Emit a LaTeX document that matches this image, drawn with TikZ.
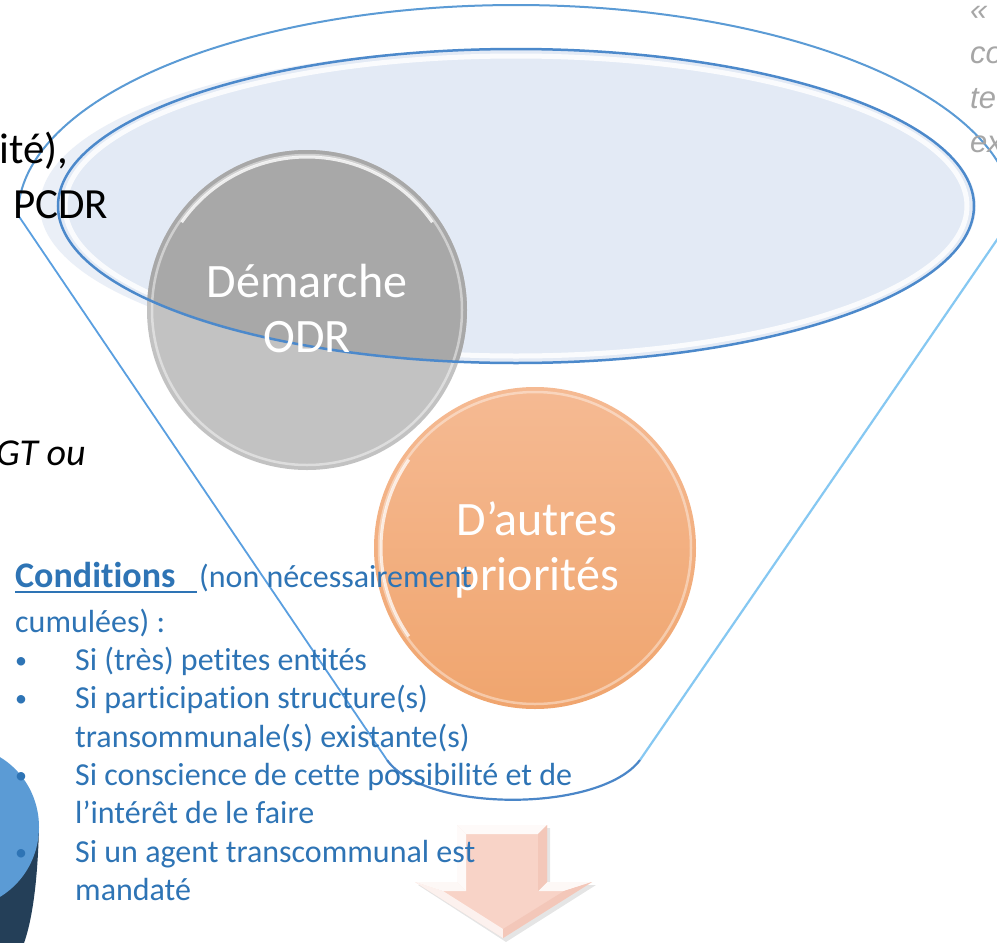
\documentclass[tikz,border=0pt]{standalone}
\usepackage{fontspec}
\setmainfont{Carlito}[Ligatures={NoCommon}]
\newfontfamily\greyfont{Liberation Sans}
\definecolor{txtblue}{HTML}{2E74B5}
\definecolor{rimblue}{HTML}{5B9BD5}
\definecolor{sideblue}{HTML}{86C8F2}
\definecolor{leftblue}{HTML}{5A9FE0}
\definecolor{botblue}{HTML}{4A86C8}
\definecolor{ellfill}{HTML}{E3EAF5}
\definecolor{hallo}{HTML}{EAEFF7}
\definecolor{ellline}{HTML}{4C89CB}
\definecolor{greytop}{HTML}{A8A8A8}
\definecolor{greybot}{HTML}{C2C2C2}
\definecolor{orangetop}{HTML}{F5BA93}
\definecolor{orangebot}{HTML}{F0A56E}
\definecolor{arrowpink}{HTML}{F8D3C7}
\definecolor{arrowdark}{HTML}{F3C7B9}
\definecolor{cylblue}{HTML}{5B9BD5}
\definecolor{cyldark}{HTML}{243F58}
\definecolor{greytext}{HTML}{A6A6A6}
\tikzset{
  bluetxt/.style={anchor=base west, inner sep=0, text=txtblue, font=\fontsize{32}{38}\selectfont},
  bulletmark/.style={anchor=base, inner sep=0, text=txtblue, font=\fontsize{24}{30}\selectfont},
  blacktxt/.style={anchor=base west, inner sep=0, text=black, font=\fontsize{43}{50}\selectfont},
  greytxt/.style={anchor=base west, inner sep=0, text=greytext, font=\greyfont\itshape\fontsize{31}{36}\selectfont},
  circtxt/.style={anchor=base, inner sep=0, text=white, font=\fontsize{48}{55}\selectfont},
  bigcircle/.style={circle, inner sep=0, minimum size=320},
}
\begin{document}
\begin{tikzpicture}[x=1pt,y=-1pt]
\useasboundingbox (0,0) rectangle (997,943);
\fill[white] (0,0) rectangle (997,943);

% bottom-left cylinder (partial)
\fill[cyldark] (-40,827) -- (39,827) .. controls (38,870) and (34,915) .. (24,943) -- (-40,943) -- cycle;
\fill[cylblue] (-40,827) ellipse [x radius=79, y radius=81];

% funnel outline
\draw[rimblue, line width=2] plot[domain=180:360, samples=150] ({516+498*cos(\x)}, {215+210*sin(\x)});
\coordinate (fl) at (18,215);
\coordinate (fr) at (1014,215);
\coordinate (bl) at (387,760);
\coordinate (br) at (640,760);
\draw[leftblue, line width=1.8] (fl) -- (bl);
\draw[sideblue, line width=2.2] (fr) -- (br);
\draw[botblue, line width=2.2] (bl) .. controls (425,813) and (600,813) .. (br);

% inner ellipse (funnel top)
\fill[hallo] (508,206) ellipse [x radius=468, y radius=157];
\fill[ellfill] (516,206) ellipse [x radius=458, y radius=157];
\draw[white, line width=5, opacity=.85] (516,206) ellipse [x radius=451, y radius=150];

% grey circle
\node[bigcircle, fill=greybot] (odr) at (307,310) {};
\begin{scope}
  \clip (516,206) ellipse [x radius=458, y radius=157];
  \fill[greytop] (odr.center) circle [radius=160];
\end{scope}
\draw[white, opacity=.45, line width=2.5] (odr.center) circle [radius=155];
\draw[white, opacity=.8, line width=3] plot[domain=215:325, samples=60] ({307+153*cos(\x)}, {310+153*sin(\x)});

\draw[ellline, line width=2.5] (516,206) ellipse [x radius=458, y radius=157];

\node[circtxt] (odra) at (307,297) {Démarche};
\node[circtxt] (odrb) at (307,352) {ODR};

% orange circle
\node[bigcircle, minimum size=322, top color=orangetop, bottom color=orangebot] (aut) at (535,548) {};
\draw[white, opacity=.4, line width=2.5] (aut.center) circle [radius=156];
\draw[white, opacity=.75, line width=3] plot[domain=145:215, samples=40] ({535+154*cos(\x)}, {548+154*sin(\x)});
\node[circtxt] (auta) at (537,535) {D’autres};
\node[circtxt] (autb) at (537,590) {priorités};

% pink arrow
\fill[black, opacity=.1] (460,828) -- (550,828) -- (550,885) -- (596,885) -- (506,942) -- (418,885) -- (460,885) -- cycle;
\fill[arrowpink] (457,825) -- (547,825) -- (547,882) -- (592,882) -- (503,938) -- (415,882) -- (457,882) -- cycle;
\fill[white, opacity=.9] (457,825) -- (547,825) -- (538,834) -- (466,834) -- cycle;
\fill[white, opacity=.9] (457,825) -- (466,834) -- (466,891) -- (457,882) -- cycle;
\fill[white, opacity=.85] (457,882) -- (466,891) -- (443,891) -- (415,882) -- cycle;
\fill[white, opacity=.7] (415,882) -- (443,891) -- (503,929) -- (503,938) -- cycle;
\fill[white, opacity=.85] (547,882) -- (592,882) -- (564,891) -- (538,891) -- cycle;
\fill[arrowdark] (547,825) -- (547,882) -- (538,891) -- (538,834) -- cycle;
\fill[arrowdark] (592,882) -- (503,938) -- (503,929) -- (564,891) -- cycle;

% blue text
\node[anchor=base west, inner sep=0, text=txtblue, font=\bfseries\fontsize{36}{42}\selectfont] (cond) at (15,587) {Conditions};
\draw[txtblue, line width=2.5] (15,592) -- (197,592);
\node[bluetxt] (condb) at (199,587) {(non nécessairement};
\node[bluetxt] (cum) at (15,632) {cumulées) :};
\node[bulletmark] (b1) at (21,668) {•};
\node[bluetxt] (l1) at (75,670) {Si (très) petites entités};
\node[bulletmark] (b2) at (21,706) {•};
\node[bluetxt] (l2) at (75,708) {Si participation structure(s)};
\node[bluetxt] (l3) at (75,747) {transommunale(s) existante(s)};
\node[bulletmark] (b3) at (21,783) {•};
\node[bluetxt] (l4) at (75,785) {Si conscience de cette possibilité et de};
\node[bluetxt] (l5) at (75,823) {l’intérêt de le faire};
\node[bulletmark] (b4) at (21,860) {•};
\node[bluetxt] (l6) at (75,862) {Si un agent transcommunal est};
\node[bluetxt] (l7) at (75,900) {mandaté};

% black text (cut at left)
\node[blacktxt] (t1) at (-1,163) {ité),};
\node[blacktxt] (t2) at (13,218) {PCDR};
\node[anchor=base east, inner sep=0, font=\itshape\fontsize{38}{44}\selectfont] (t3) at (86,465) {GT ou};

% grey text (cut at right)
\node[greytxt] (g1) at (970,20) {«};
\node[greytxt] (g2) at (970,63) {co};
\node[greytxt] (g3) at (970,108) {te};
\node[greytxt] (g4) at (970,152) {ex};
\end{tikzpicture}
\end{document}
